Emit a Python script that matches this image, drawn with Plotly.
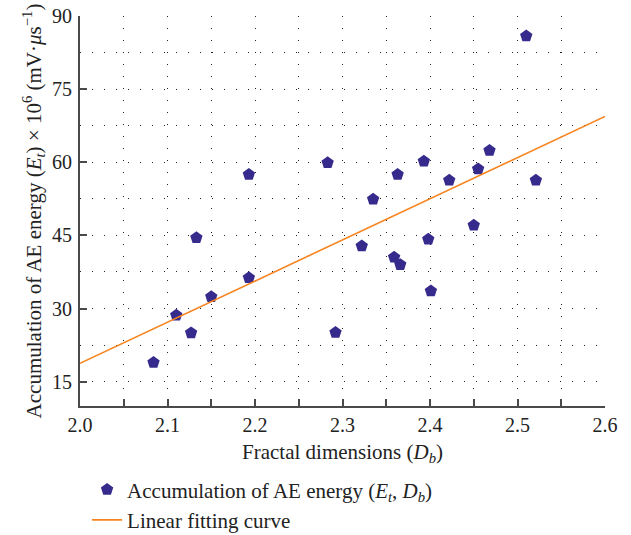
import plotly.graph_objects as go

# Data
fractal_dim = [2.084, 2.110, 2.127, 2.133, 2.150, 2.193, 2.193, 2.283, 2.292,
               2.322, 2.335, 2.359, 2.363, 2.366, 2.393, 2.398, 2.401, 2.422,
               2.450, 2.455, 2.468, 2.510, 2.521]
ae_energy = [18.9, 28.6, 25.0, 44.5, 32.4, 36.3, 57.5, 59.9, 25.1,
             42.8, 52.4, 40.5, 57.5, 39.0, 60.2, 44.2, 33.6, 56.3,
             47.1, 58.6, 62.4, 85.9, 56.3]

# Linear fitting curve parameters
fit_intercept_at_2 = 18.75
fit_slope = 84.4
fit_x = [2.0, 2.6]
fit_y = [fit_intercept_at_2 + fit_slope * (x - 2.0) for x in fit_x]

x_ticks = [2.0, 2.1, 2.2, 2.3, 2.4, 2.5, 2.6]
y_ticks = [15, 30, 45, 60, 75, 90]

FONT = "Liberation Serif"
AXIS_COLOR = "#4a4a4a"
TEXT_COLOR = "#222222"

fig = go.Figure()
fig.add_trace(go.Scatter(
    x=fractal_dim, y=ae_energy, mode="markers",
    marker=dict(symbol="pentagon", size=13, color="#362b8c", line=dict(width=0)),
    name="Accumulation of AE energy (<i>E<sub>t</sub></i>, <i>D<sub>b</sub></i>)",
))
fig.add_trace(go.Scatter(
    x=fit_x, y=fit_y, mode="lines",
    line=dict(color="#f7841f", width=1.6),
    name="Linear fitting curve",
))

grid_common = dict(gridcolor="#222222", gridwidth=1.2, griddash="1px,11px")

fig.update_layout(
    width=631, height=535,
    margin=dict(l=80, r=26, t=16, b=129, autoexpand=False),
    paper_bgcolor="white", plot_bgcolor="white",
    font=dict(family=FONT, size=20, color=TEXT_COLOR),
    showlegend=True,
    legend=dict(
        x=0.0135, y=-0.1626, xanchor="left", yanchor="top",
        font=dict(family=FONT, size=21, color=TEXT_COLOR),
        bgcolor="rgba(0,0,0,0)", tracegroupgap=0, itemwidth=30,
    ),
    xaxis=dict(
        range=[2.0, 2.6], tickvals=x_ticks, tickformat=".1f",
        automargin=False, ticklabeloverflow="allow",
        showline=True, linecolor=AXIS_COLOR, linewidth=2,
        ticks="inside", ticklen=7, tickwidth=1.5, tickcolor=AXIS_COLOR,
        ticklabelstandoff=0,
        showgrid=True, zeroline=False,
        minor=dict(dtick=0.05, tick0=2.0, ticks="inside", ticklen=7, tickwidth=1.5,
                   tickcolor=AXIS_COLOR, showgrid=True, **grid_common),
        title=dict(text="Fractal dimensions (<i>D<sub>b</sub></i>)", standoff=9,
                   font=dict(family=FONT, size=21, color=TEXT_COLOR)),
        tickfont=dict(family=FONT, size=20, color=TEXT_COLOR),
        **grid_common,
    ),
    yaxis=dict(
        range=[10, 90], tickvals=y_ticks,
        automargin=False, ticklabeloverflow="allow",
        showline=True, linecolor=AXIS_COLOR, linewidth=2,
        ticks="inside", ticklen=7, tickwidth=1.5, tickcolor=AXIS_COLOR,
        ticklabelstandoff=2,
        showgrid=True, zeroline=False,
        minor=dict(dtick=7.5, tick0=0, ticks="", showgrid=True, **grid_common),
        title=dict(text="Accumulation of AE energy (<i>E<sub>t</sub></i>) × 10<sup>6</sup> (mV·<i>μ</i>s<sup>−1</sup>)",
                   standoff=5, font=dict(family=FONT, size=21, color=TEXT_COLOR)),
        tickfont=dict(family=FONT, size=20, color=TEXT_COLOR),
        **grid_common,
    ),
)

fig.write_html("out.html", config={"displayModeBar": False},
               post_script="document.body.style.margin='0';")
